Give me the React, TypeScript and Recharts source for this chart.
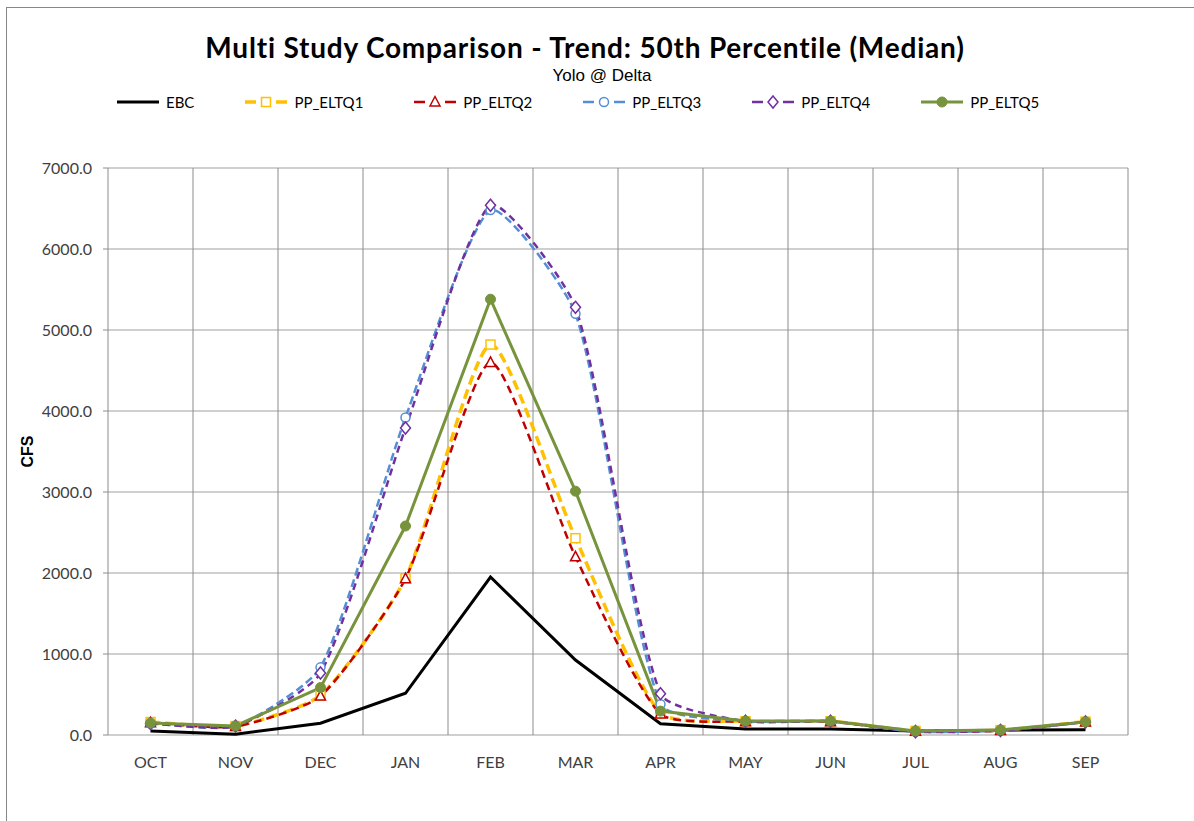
import { LineChart, Line, XAxis, YAxis, CartesianGrid } from 'recharts';

const months = ['OCT', 'NOV', 'DEC', 'JAN', 'FEB', 'MAR', 'APR', 'MAY', 'JUN', 'JUL', 'AUG', 'SEP'];
const ebc = [50, 10, 145, 515, 1950, 925, 140, 75, 75, 50, 60, 65];
const ppEltq1 = [160, 110, 490, 1935, 4820, 2430, 270, 170, 170, 50, 60, 165];
const ppEltq2 = [150, 105, 480, 1930, 4600, 2200, 260, 165, 165, 45, 55, 160];
const ppEltq3 = [140, 110, 835, 3920, 6480, 5200, 380, 170, 170, 40, 55, 160];
const ppEltq4 = [140, 110, 765, 3790, 6540, 5280, 510, 170, 170, 40, 55, 160];
const ppEltq5 = [148, 112, 585, 2580, 5380, 3010, 295, 172, 172, 50, 62, 162];
const yTicks = [0, 1000, 2000, 3000, 4000, 5000, 6000, 7000];
const edgeTicks = [0, 1, 2, 3, 4, 5, 6, 7, 8, 9, 10, 11, 12];

type MarkerKind = 'none' | 'square' | 'triangle' | 'circle' | 'diamond' | 'dot';

interface SeriesDef {
  key: string;
  color: string;
  width: number;
  dash?: string;
  smooth: boolean;
  marker: MarkerKind;
}

const series: SeriesDef[] = [
  { key: 'EBC', color: '#000000', width: 3, smooth: false, marker: 'none' },
  { key: 'PP_ELTQ1', color: '#FFC000', width: 3.5, dash: '10 5', smooth: true, marker: 'square' },
  { key: 'PP_ELTQ2', color: '#C00000', width: 2.5, dash: '8 5', smooth: true, marker: 'triangle' },
  { key: 'PP_ELTQ3', color: '#558ED5', width: 2.5, dash: '8 4', smooth: true, marker: 'circle' },
  { key: 'PP_ELTQ4', color: '#7030A0', width: 2.5, dash: '7 5', smooth: true, marker: 'diamond' },
  { key: 'PP_ELTQ5', color: '#77933C', width: 3, smooth: false, marker: 'dot' },
];

const data = months.map((m, i) => ({
  month: m,
  EBC: ebc[i],
  PP_ELTQ1: ppEltq1[i],
  PP_ELTQ2: ppEltq2[i],
  PP_ELTQ3: ppEltq3[i],
  PP_ELTQ4: ppEltq4[i],
  PP_ELTQ5: ppEltq5[i],
}));

// light smoothing like Excel's: tangents scaled by segment lengths so short legs don't overshoot
const TENSION = 0.2;
function excelSmooth(context: any) {
  let pts: [number, number][] = [];
  const dist = (a: [number, number], b: [number, number]) => Math.hypot(b[0] - a[0], b[1] - a[1]);
  return {
    areaStart() {},
    areaEnd() {},
    lineStart() {
      pts = [];
    },
    point(x: number, y: number) {
      pts.push([+x, +y]);
    },
    lineEnd() {
      if (!pts.length) return;
      context.moveTo(pts[0][0], pts[0][1]);
      for (let i = 0; i < pts.length - 1; i++) {
        const p0 = pts[i - 1] || pts[i];
        const p1 = pts[i];
        const p2 = pts[i + 1];
        const p3 = pts[i + 2] || p2;
        const d01 = dist(p0, p1);
        const d12 = dist(p1, p2);
        const d23 = dist(p2, p3);
        const a = d01 + d12 > 0 ? (TENSION * d12) / (d01 + d12) : 0;
        const b = d12 + d23 > 0 ? (TENSION * d12) / (d12 + d23) : 0;
        context.bezierCurveTo(
          p1[0] + (p2[0] - p0[0]) * a,
          p1[1] + (p2[1] - p0[1]) * a,
          p2[0] - (p3[0] - p1[0]) * b,
          p2[1] - (p3[1] - p1[1]) * b,
          p2[0],
          p2[1],
        );
      }
    },
  };
}

function markerShape(kind: MarkerKind, color: string, cx: number, cy: number, key?: string | number) {
  const common = { fill: '#ffffff', stroke: color, strokeWidth: 1.5 };
  switch (kind) {
    case 'square':
      return <rect key={key} x={cx - 4.5} y={cy - 4.5} width={9} height={9} {...common} />;
    case 'triangle':
      return <path key={key} d={`M${cx},${cy - 5.5}L${cx + 5},${cy + 4}L${cx - 5},${cy + 4}Z`} {...common} />;
    case 'circle':
      return <circle key={key} cx={cx} cy={cy} r={4.5} {...common} />;
    case 'diamond':
      return <path key={key} d={`M${cx},${cy - 6}L${cx + 5},${cy}L${cx},${cy + 6}L${cx - 5},${cy}Z`} {...common} />;
    case 'dot':
      return <circle key={key} cx={cx} cy={cy} r={5} fill={color} stroke={color} strokeWidth={1} />;
    default:
      return <g key={key} />;
  }
}

function makeDot(s: SeriesDef) {
  if (s.marker === 'none') return false;
  return (props: any) => {
    const { cx, cy, index } = props;
    if (cx == null || cy == null) return <g key={`${s.key}-${index}`} />;
    return markerShape(s.marker, s.color, cx, cy, `${s.key}-${index}`);
  };
}

const font = 'Lato, "Open Sans", sans-serif';

function ChartLegend() {
  return (
    <div
      style={{
        position: 'absolute',
        top: 93,
        left: 115,
        display: 'flex',
        alignItems: 'center',
        gap: 49,
        fontFamily: font,
        fontSize: 15,
        color: '#000',
      }}
    >
      {series.map((s) => (
        <div key={s.key} style={{ display: 'flex', alignItems: 'center', gap: 5 }}>
          <svg width={46} height={16}>
            <line
              x1={2}
              x2={44}
              y1={8}
              y2={8}
              stroke={s.color}
              strokeWidth={s.width}
              strokeDasharray={s.dash ? '11 20' : undefined}
            />
            {markerShape(s.marker, s.color, 23, 8)}
          </svg>
          <span>{s.key}</span>
        </div>
      ))}
    </div>
  );
}

export default function App() {
  return (
    <div style={{ position: 'relative', width: 1194, height: 821, background: '#fff', overflow: 'hidden' }}>
      <style>{'body{margin:0;overflow:hidden;}'}</style>
      <div
        style={{
          position: 'absolute',
          left: 6,
          top: 7,
          width: 1200,
          height: 830,
          borderLeft: '1px solid #878787',
          borderTop: '1px solid #878787',
        }}
      />
      <div
        style={{
          position: 'absolute',
          top: 29,
          left: 0,
          width: 1170,
          textAlign: 'center',
          fontFamily: font,
          fontWeight: 700,
          fontSize: 28,
          letterSpacing: 0.8,
          lineHeight: '36px',
          color: '#000',
        }}
      >
        Multi Study Comparison - Trend: 50th Percentile (Median)
      </div>
      <div
        style={{
          position: 'absolute',
          top: 65,
          left: 0,
          width: 1204,
          textAlign: 'center',
          fontFamily: '"Liberation Sans", Arial, sans-serif',
          fontSize: 17,
          lineHeight: '22px',
          color: '#000',
        }}
      >
        Yolo @ Delta
      </div>
      <ChartLegend />
      <LineChart
        width={1194}
        height={821}
        data={data}
        margin={{ top: 168, right: 66, left: 8, bottom: 46 }}
        style={{ position: 'absolute', left: 0, top: 0 }}
      >
        <CartesianGrid vertical={false} stroke="#bfbfbf" strokeWidth={1.3} />
        <CartesianGrid
          horizontal={false}
          stroke="#8c8c8c"
          verticalCoordinatesGenerator={({ offset }: any) =>
            edgeTicks.map((t) => offset.left + (t * offset.width) / 12)
          }
        />
        <XAxis
          xAxisId="e"
          type="number"
          domain={[0, 12]}
          ticks={edgeTicks}
          tickFormatter={() => ''}
          tickSize={6}
          tickLine={{ stroke: '#8c8c8c' }}
          axisLine={{ stroke: '#bfbfbf', strokeWidth: 1.3 }}
          height={0}
        />
        <XAxis
          xAxisId="m"
          dataKey="month"
          padding={{ left: 42.5, right: 42.5 }}
          tickLine={false}
          axisLine={false}
          tickSize={0}
          tickMargin={22}
          interval={0}
          height={40}
          tick={{ fill: '#404040', fontFamily: font, fontSize: 16 }}
        />
        <YAxis
          width={100}
          domain={[0, 7000]}
          ticks={yTicks}
          tickFormatter={(v: number) => v.toFixed(1)}
          axisLine={false}
          tickLine={{ stroke: '#8c8c8c' }}
          tickSize={5}
          tickMargin={11}
          tick={{ fill: '#404040', fontFamily: font, fontSize: 16 }}
          label={{
            value: 'CFS',
            angle: -90,
            position: 'center',
            dx: -31,
            style: { fontFamily: '"Liberation Sans", Arial, sans-serif', fontWeight: 700, fontSize: 16, fill: '#000' },
          }}
        />
        {series.map((s) => (
          <Line
            key={s.key}
            xAxisId="m"
            type={s.smooth ? (excelSmooth as any) : 'linear'}
            dataKey={s.key}
            stroke={s.color}
            strokeWidth={s.width}
            strokeDasharray={s.dash}
            dot={makeDot(s)}
            activeDot={false}
            isAnimationActive={false}
          />
        ))}
      </LineChart>
    </div>
  );
}
